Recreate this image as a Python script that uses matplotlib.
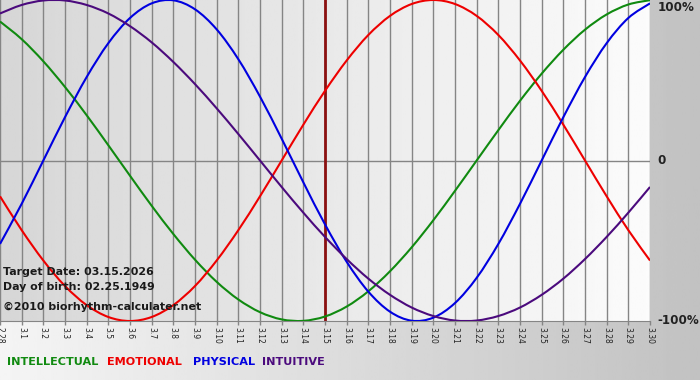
import matplotlib
matplotlib.use('Agg')
import matplotlib.pyplot as plt
from matplotlib.path import Path
from matplotlib.patches import PathPatch
import numpy as np

# ── Data (one value per day, -1 .. 1) ───────────────────────────────────────
days = ['2.28', '3.1', '3.2', '3.3', '3.4', '3.5', '3.6', '3.7', '3.8', '3.9',
        '3.10', '3.11', '3.12', '3.13', '3.14', '3.15', '3.16', '3.17', '3.18',
        '3.19', '3.20', '3.21', '3.22', '3.23', '3.24', '3.25', '3.26', '3.27',
        '3.28', '3.29', '3.30']

intellectual = [0.866, 0.756, 0.618, 0.458, 0.282, 0.095, -0.095, -0.282, -0.458,
                -0.618, -0.756, -0.866, -0.945, -0.990, -0.999, -0.972, -0.910,
                -0.815, -0.690, -0.541, -0.372, -0.189, 0.000, 0.189, 0.372,
                0.541, 0.690, 0.815, 0.910, 0.972, 0.999]
emotional = [-0.223, -0.434, -0.623, -0.782, -0.901, -0.975, -1.000, -0.975,
             -0.901, -0.782, -0.623, -0.434, -0.223, 0.000, 0.223, 0.434, 0.623,
             0.782, 0.901, 0.975, 1.000, 0.975, 0.901, 0.782, 0.623, 0.434,
             0.223, 0.000, -0.223, -0.434, -0.623]
physical = [-0.520, -0.270, 0.000, 0.270, 0.520, 0.731, 0.888, 0.979, 0.998,
            0.942, 0.817, 0.631, 0.398, 0.136, -0.136, -0.398, -0.631, -0.817,
            -0.942, -0.998, -0.979, -0.888, -0.731, -0.520, -0.270, 0.000,
            0.270, 0.520, 0.731, 0.888, 0.979]
intuitive = [0.916, 0.969, 0.997, 0.997, 0.969, 0.916, 0.837, 0.736, 0.614,
             0.476, 0.325, 0.165, 0.000, -0.165, -0.325, -0.476, -0.614, -0.736,
             -0.837, -0.916, -0.969, -0.997, -0.997, -0.969, -0.916, -0.837,
             -0.736, -0.614, -0.476, -0.325, -0.165]

target_day = '3.15'
series = [('INTELLECTUAL', intellectual, '#108a10'),
          ('EMOTIONAL', emotional, '#ee0000'),
          ('PHYSICAL', physical, '#0000e0'),
          ('INTUITIVE', intuitive, '#4b0a7d')]


def smooth_path(xs, ys):
    """Bezier path passing through every data point (Catmull-Rom style)."""
    p = np.column_stack([xs, ys]).astype(float)
    ext = np.vstack([p[0], p, p[-1]])
    verts = [p[0]]
    codes = [Path.MOVETO]
    for i in range(len(p) - 1):
        p0, p1, p2, p3 = ext[i], ext[i + 1], ext[i + 2], ext[i + 3]
        verts += [p1 + (p2 - p0) / 6, p2 - (p3 - p1) / 6, p2]
        codes += [Path.CURVE4] * 3
    return Path(verts, codes)


# ── Figure ──────────────────────────────────────────────────────────────────
W, H = 700, 380
fig = plt.figure(figsize=(W / 100, H / 100), dpi=100)

# outer background: light on the left, grey on the right
bg = fig.add_axes([0, 0, 1, 1], zorder=-2)
bg.imshow(np.linspace(0.96, 0.76, 256)[None, :], cmap='gray', vmin=0, vmax=1,
          aspect='auto', extent=[0, 1, 0, 1])
bg.set_xlim(0, 1)
bg.set_ylim(0, 1)
bg.axis('off')

ax = fig.add_axes([0, 1 - 321 / H, 650 / W, 321 / H])
x = np.arange(len(days))
ax.imshow(np.linspace(0.84, 0.985, 256)[None, :], cmap='gray', vmin=0, vmax=1,
          aspect='auto', extent=[0, len(days) - 1, -1, 1], zorder=0)

# day grid and zero line
for xi in x:
    ax.axvline(xi, color='#858585', lw=1.0, zorder=1)
ax.axhline(0, color='#858585', lw=1.0, zorder=1)

# marker for the target date
ax.axvline(days.index(target_day), color='#8b1010', lw=2.0, zorder=2)

for name, vals, col in series:
    ax.add_patch(PathPatch(smooth_path(x, vals), fill=False, edgecolor=col,
                           lw=1.5, zorder=3))

ax.set_xlim(0, len(days) - 1)
ax.set_ylim(-1, 1)
ax.set_yticks([])
ax.set_xticks(x)
ax.set_xticklabels(days, rotation=-90, fontsize=5.5, color='#222222')
ax.tick_params(axis='x', length=3, width=1, color='#858585', pad=1)
for s in ['top', 'left', 'right']:
    ax.spines[s].set_visible(False)
ax.spines['bottom'].set_color('#858585')

# right-hand percentage labels
yt = ax.get_yaxis_transform()
for lab, yv in [('100%', 0.955), ('0', 0.0), ('-100%', -1.0)]:
    ax.text(1.012, yv, lab, transform=yt, ha='left', va='center',
            fontsize=8.6, fontweight='bold', color='#222222', clip_on=False)

# info texts
info = ['Target Date: 03.15.2026', 'Day of birth: 02.25.1949',
        '\u00a92010 biorhythm-calculater.net']
for txt, ypx in zip(info, [272, 287, 307]):
    fig.text(3 / W, 1 - ypx / H, txt, ha='left', va='center',
             fontsize=7.9, fontweight='bold', color='#1a1a1a')

# legend row
for (name, vals, col), xpx in zip(series, [7, 107, 193, 262]):
    fig.text(xpx / W, 1 - 362 / H, name, ha='left', va='center',
             fontsize=8.1, fontweight='bold', color=col)

fig.savefig('out.png', dpi=100)
